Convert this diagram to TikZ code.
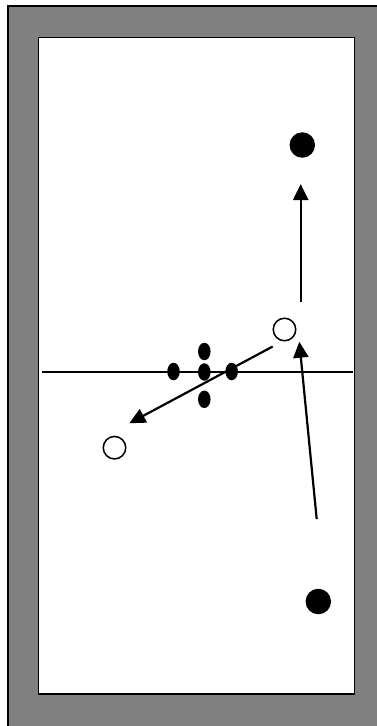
\documentclass[tikz,border=0pt]{standalone}
\usetikzlibrary{arrows.meta,shapes.geometric}
\begin{document}
\begin{tikzpicture}[x=1pt,y=-1pt,
  court/.style={fill=white,draw=black,line width=1.8pt},
  filledball/.style={circle,fill=black,draw=none,minimum size=25.5pt,inner sep=0pt},
  openball/.style={circle,draw=black,line width=1.5pt,fill=white,minimum size=22.5pt,inner sep=0pt},
  spot/.style={ellipse,fill=black,draw=none,minimum width=12.5pt,minimum height=17.5pt,inner sep=0pt},
  move/.style={line width=2.2pt,-{Triangle[length=16pt,width=15pt]}}]
\useasboundingbox (0,0) rectangle (377,726);
% outer frame
\fill[gray] (8,6) rectangle (390,740);
\draw[line width=1.8pt] (8,740) -- (8,6) -- (390,6);
% inner court
\draw[court] (38.5,37.5) rectangle (354.5,694);
% center line
\draw[line width=1.6pt] (42,372) -- (353,372);
% balls
\node[filledball] (b1) at (302.3,145) {};
\node[filledball] (b2) at (318.3,601.5) {};
\node[openball] (o1) at (284.5,329.5) {};
\node[openball] (o2) at (114.5,447.7) {};
% spots
\node[spot] (s1) at (173.5,371.5) {};
\node[spot] (s2) at (204.3,351.5) {};
\node[spot] (s3) at (204.3,372) {};
\node[spot] (s4) at (231.7,371.5) {};
\node[spot] (s5) at (204.3,399.3) {};
% arrows
\coordinate (a1s) at (300.7,302);
\coordinate (a1e) at (300.7,184);
\coordinate (a2s) at (316.7,519);
\coordinate (a2e) at (299.3,341.7);
\coordinate (a3s) at (272.7,346.5);
\coordinate (a3e) at (129.3,423.3);
\draw[move] (a1s) -- (a1e);
\draw[move] (a2s) -- (a2e);
\draw[move] (a3s) -- (a3e);
\end{tikzpicture}
\end{document}
